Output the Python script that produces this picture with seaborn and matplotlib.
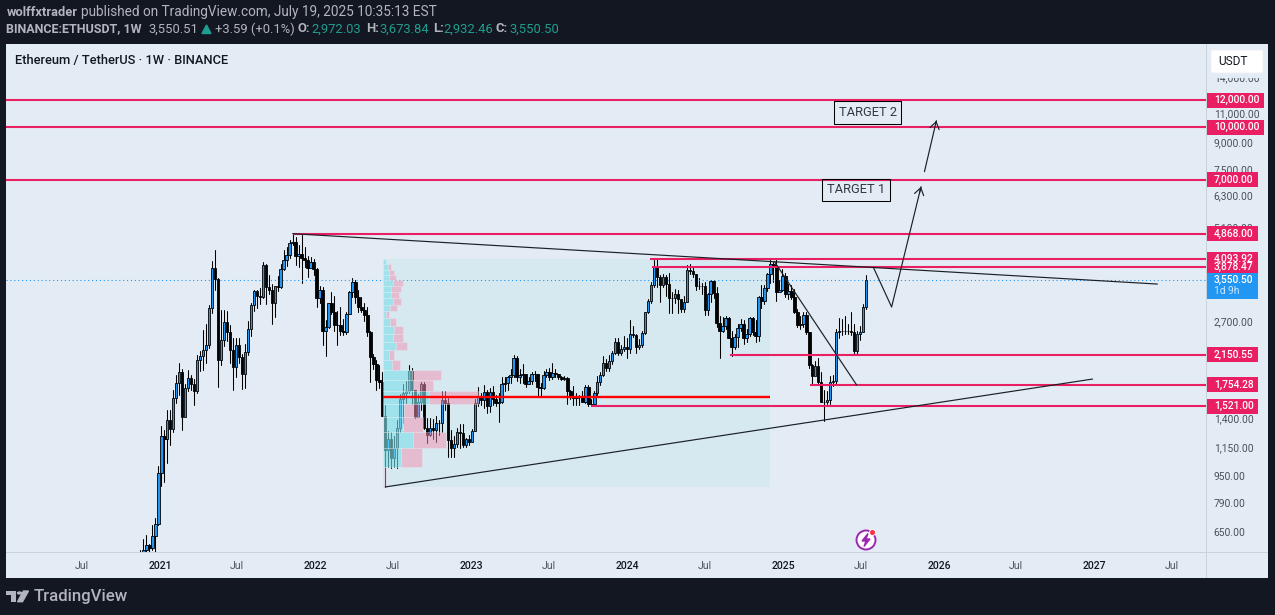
import matplotlib
matplotlib.use("Agg")
import matplotlib.pyplot as plt
import matplotlib.dates as mdates
from matplotlib.patches import Rectangle, Polygon, Circle, Ellipse, FancyBboxPatch
import numpy as np
import pandas as pd
import seaborn as sns

# weekly candles, one row per line of the picture, oldest first (last week = 2025-07-14)
first_open = 450
closes = [
    460, 510, 575, 594, 584, 634, 684, 971,
    1241, 1216, 1380, 1299, 1611, 1783, 1913, 1408, 1723, 1835, 1770, 1682, 2072, 2137, 2222, 2299, 2940, 3870,
    3575, 2082, 2368, 2690, 2500, 2222, 1975, 2299, 2123, 1885, 2187, 2563, 3000, 3297, 3201, 3180, 3945, 3390,
    3325, 3040, 3410, 3390, 3830, 4065, 4215, 4560, 4590, 4190, 4250, 4130, 4075, 3870, 4015, 3830,
    3145, 3340, 2530, 2595, 3040, 2860, 2620, 2620, 2530, 2500, 2840, 3280, 3505, 3170, 2965, 2900, 2805, 2500,
    2125, 2025, 1808, 1795, 1425, 1129, 1215, 1070, 1145, 1315, 1590, 1665, 1680, 1930, 1693, 1415, 1565, 1760,
    1315, 1250, 1310, 1292, 1355, 1355, 1582, 1555, 1208, 1145, 1180, 1275, 1265, 1170, 1220, 1195,
    1285, 1552, 1630, 1585, 1670, 1518, 1678, 1600, 1550, 1560, 1770, 1780, 1845, 1870, 2100, 1855, 1880, 1890,
    1760, 1800, 1890, 1890, 1730, 1715, 1880, 1915, 1850, 1905, 1890, 1850, 1825, 1835, 1680, 1630, 1610, 1630,
    1630, 1565, 1735, 1543, 1543, 1660, 1790, 1880, 2040, 1960, 2060, 2170, 2340, 2180, 2240, 2270,
    2230, 2470, 2460, 2260, 2290, 2495, 2860, 3090, 3450, 3895, 3640, 3450, 3640, 3460, 3145, 3150, 3250, 3135,
    2925, 3080, 3800, 3780, 3720, 3420, 3420, 3430, 2906, 3240, 3530, 3270, 2665, 2520, 2610, 2750, 2410, 2260,
    2420, 2580, 2650, 2415, 2470, 2750, 2510, 2440, 3170, 3100, 3370, 3700, 3970, 3900, 3295, 3340, 3665,
    3230, 3310, 3180, 2860, 2630, 2650, 2820, 2510, 2000, 1865, 1990, 1790, 1565, 1565, 1585, 1785, 1800, 2500,
    2530, 2530, 2525, 2525, 2510, 2200, 2480, 2510, 2970, 3550.5,
]
highs = [
    490, 575, 622, 636, 600, 680, 716, 1013,
    1330, 1290, 1480, 1480, 1690, 1875, 2030, 1950, 1760, 1945, 1880, 1830, 2150, 2200, 2539, 2640, 3000, 4050,
    4360, 3600, 2900, 2900, 2880, 2620, 2400, 2408, 2410, 2160, 2320, 2700, 3040, 3330, 3320, 3370, 4020, 3975,
    3680, 3470, 3420, 3650, 3980, 4370, 4460, 4665, 4870, 4770, 4500, 4810, 4450, 4200, 4150, 4100,
    3850, 3420, 3390, 2720, 3050, 3280, 3200, 2880, 2970, 2730, 2860, 3300, 3600, 3560, 3330, 3180, 3040, 2960,
    2520, 2160, 2080, 2010, 1920, 1530, 1285, 1280, 1240, 1380, 1650, 1770, 1800, 2000, 1960, 1700, 1650, 1790,
    1785, 1400, 1400, 1390, 1420, 1380, 1680, 1680, 1610, 1290, 1240, 1310, 1350, 1350, 1230, 1250,
    1300, 1600, 1735, 1660, 1750, 1700, 1720, 1740, 1640, 1660, 1850, 1850, 1860, 1950, 2140, 2130, 1950, 2020,
    1860, 1850, 1920, 1930, 1890, 1780, 1930, 1950, 1960, 2040, 1950, 1890, 1865, 1860, 1850, 1690, 1745, 1660,
    1640, 1680, 1750, 1750, 1600, 1680, 1860, 1910, 2130, 2090, 2140, 2200, 2400, 2400, 2300, 2445,
    2400, 2716, 2610, 2470, 2395, 2520, 2870, 3125, 3520, 4073, 4090, 3680, 3720, 3680, 3730, 3280, 3360, 3320,
    3120, 3200, 3945, 3980, 3890, 3720, 3600, 3500, 3520, 3260, 3560, 3560, 3400, 2800, 2780, 2800, 2770, 2530,
    2480, 2650, 2730, 2720, 2560, 2770, 2770, 2720, 3200, 3450, 3450, 3740, 4090, 4010, 4110, 3550, 3830,
    3740, 3470, 3450, 3350, 2920, 2800, 2860, 2860, 2500, 2020, 2060, 2100, 1920, 1690, 1680, 1860, 1875, 2550,
    2755, 2735, 2790, 2650, 2865, 2650, 2520, 2610, 3020, 3673.84,
]
lows = [
    440, 475, 480, 565, 530, 575, 560, 680,
    887, 914, 1035, 1170, 1280, 1555, 1640, 1290, 1470, 1680, 1700, 1530, 1660, 1930, 1938, 2040, 2250, 2850,
    3330, 1725, 2000, 2280, 2355, 2040, 1693, 1850, 2040, 1710, 1720, 2150, 2440, 2880, 2950, 3020, 3150, 3030,
    3240, 2640, 2770, 3300, 3380, 3800, 3910, 4140, 4510, 3950, 3900, 3500, 3900, 3640, 3880, 3680,
    2970, 3050, 2290, 2137, 2580, 2830, 2520, 2290, 2450, 2450, 2480, 2880, 3180, 3040, 2870, 2860, 2700, 2440,
    1790, 1950, 1700, 1720, 1420, 881, 1010, 1000, 1010, 1000, 1280, 1360, 1550, 1660, 1540, 1400, 1420, 1480,
    1300, 1188, 1240, 1220, 1190, 1250, 1280, 1480, 1078, 1080, 1075, 1150, 1145, 1150, 1150, 1170,
    1195, 1285, 1520, 1530, 1500, 1450, 1460, 1530, 1520, 1370, 1550, 1680, 1700, 1780, 1850, 1800, 1780, 1780,
    1730, 1760, 1760, 1800, 1630, 1630, 1710, 1850, 1810, 1830, 1845, 1820, 1810, 1810, 1540, 1590, 1530, 1530,
    1530, 1560, 1550, 1520, 1520, 1530, 1640, 1750, 1860, 1930, 1930, 2020, 2165, 2140, 2150, 2210,
    2100, 2170, 2420, 2170, 2230, 2260, 2470, 2850, 3050, 3400, 3400, 3060, 3400, 3200, 2850, 2850, 3050, 2850,
    2860, 2860, 3060, 3720, 3640, 3330, 3360, 3230, 2810, 2820, 3080, 3150, 2600, 2110, 2500, 2560, 2400, 2137,
    2240, 2260, 2520, 2310, 2350, 2440, 2450, 2350, 2360, 2950, 3020, 3300, 3500, 3520, 3100, 3300, 3300,
    3180, 3130, 3130, 2850, 2590, 2550, 2600, 2470, 1960, 1750, 1880, 1770, 1560, 1375, 1540, 1540, 1740, 1750,
    2400, 2450, 2480, 2470, 2450, 2150, 2160, 2370, 2500, 2932.46,
]

# volume profile rows, prices top to bottom, volumes in relative units
profile_edges = [4103, 3967, 3810, 3683, 3561, 3420, 3284, 3153, 3008, 2888, 2755, 2611, 2473,
                 2343, 2220, 2075, 1939, 1813, 1683, 1542, 1412, 1277, 1146, 1008, 881]
profile_up = [3, 5, 6, 6, 10, 8, 8, 10, 7, 3, 7, 11, 10, 13, 6, 9, 29, 30, 46, 21, 20, 30, 18, 1]
profile_down = [0, 3, 5, 7, 10, 10, 8, 8, 7, 3, 6, 9, 10, 11, 5, 8, 29, 20, 49, 16, 20, 33, 21, 2]
poc_price = 1616

level_prices = [12000, 10000, 7000, 4868, 4093.92, 3878.47, 2150.55, 1754.28, 1521]
level_starts = [None, None, None, "2021-11-08", "2024-02-23", "2024-02-28", "2024-08-29", "2025-03-05", "2023-10-08"]

y_tick_values = [14000, 11000, 9000, 7500, 6300, 5100, 2700, 1400, 1150, 950, 790, 650]
x_tick_dates = ["2020-07-01", "2021-01-01", "2021-07-01", "2022-01-01", "2022-07-01", "2023-01-01", "2023-07-01",
                "2024-01-01", "2024-07-01", "2025-01-01", "2025-07-01", "2026-01-01", "2026-07-01", "2027-01-01",
                "2027-07-01"]
x_tick_labels = ["Jul", "2021", "Jul", "2022", "Jul", "2023", "Jul", "2024", "Jul", "2025", "Jul", "2026", "Jul",
                 "2027", "Jul"]

# drawn lines: dates and prices
trend_lines = {
    "top": (["2021-11-08", "2027-05-28"], [4868, 3465]),
    "bottom": (["2022-06-13", "2026-12-27"], [881, 1825]),
    "diagonal": (["2024-12-12", "2025-06-22"], [4020, 1754]),
    "path": (["2025-08-01", "2025-09-12", "2025-11-20"], [3862, 2968, 6684]),
    "path2": (["2025-11-28", "2025-12-26"], [7397, 10435]),
}

PANEL = "#e3ecf4"
DARK = "#131722"
PINK = "#e91e63"
BLUE = "#2196f3"
TEAL = "#1f9e8f"
GREY = "#b2b5be"
SEP = "#c9d1d9"
W, H = 1275, 615

sns.set_theme(style="white")
plt.rcParams["font.family"] = ["Roboto", "DejaVu Sans"]

fig = plt.figure(figsize=(W / 100, H / 100), dpi=100, facecolor=DARK)
ax = fig.add_axes([6 / W, (H - 552) / H, 1200 / W, 508 / H], facecolor=PANEL)


def fx(x):
    return x / W


def fy(y):
    return 1 - y / H


def dnum(s):
    return mdates.date2num(pd.Timestamp(s))


def fig_text(x, y, s, **kw):
    kw.setdefault("va", "center")
    kw.setdefault("zorder", 10)
    return fig.text(fx(x), fy(y), s, **kw)


def fig_rect(x0, y0, x1, y1, color, zorder=5):
    fig.add_artist(Rectangle((fx(x0), fy(y1)), fx(x1 - x0), (y1 - y0) / H, color=color, lw=0,
                             transform=fig.transFigure, zorder=zorder))


ax.set_yscale("log")
ax.set_xlim(dnum("2020-01-06"), dnum("2027-09-19"))
ax.set_ylim(568, 17513)

# candles
week_dates = pd.date_range(end="2025-07-14", periods=len(closes), freq="7D")
weeks = mdates.date2num(week_dates)
opens = np.array([first_open] + closes[:-1], dtype=float)
closes_a = np.array(closes, dtype=float)
up = closes_a >= opens

wicks = pd.DataFrame({
    "week": np.concatenate([weeks, weeks]),
    "price": np.concatenate([lows, highs]),
})
sns.lineplot(data=wicks, x="week", y="price", units="week", estimator=None, sort=False,
             color="#000000", lw=0.75, ax=ax, legend=False, zorder=3)
body_bottom = np.minimum(opens, closes_a)
body_height = np.maximum(np.abs(closes_a - opens), 1.5)
ax.bar(weeks, body_height, bottom=body_bottom, width=5.8, color=[BLUE if u else "#000000" for u in up],
       edgecolor="#000000", lw=0.6, zorder=4)

# fixed range profile
box_left, box_right = dnum("2022-06-08"), dnum("2024-12-02")
ax.add_patch(Rectangle((box_left, 881), box_right - box_left, 4103 - 881, color="#bfe6ee", alpha=0.35, lw=0, zorder=2))
px_days = 1 / 0.42683
edges = np.array(profile_edges, dtype=float)
row_low = edges[1:]
row_height = edges[:-1] - edges[1:]
up_days = np.array(profile_up) * px_days
down_days = np.array(profile_down) * px_days
ax.barh(row_low, up_days, height=row_height, left=box_left, align="edge", color="#80deea", alpha=0.62,
        edgecolor="#e3f1f6", lw=0.4, zorder=5)
ax.barh(row_low, down_days, height=row_height, left=box_left + up_days, align="edge", color="#f48fb1", alpha=0.5,
        edgecolor="#e3f1f6", lw=0.4, zorder=5)
ax.plot([box_left, box_right], [poc_price, poc_price], color="#ff0000", lw=1.7, zorder=6, solid_capstyle="butt")

# current price
ax.axhline(3550.5, color=BLUE, ls=(0, (1, 2.5)), lw=0.8, zorder=3)

# levels
x_left, x_right = ax.get_xlim()
for price, start in zip(level_prices, level_starts):
    x0 = x_left if start is None else dnum(start)
    ax.plot([x0, x_right], [price, price], color=PINK, lw=1.5, zorder=6, solid_capstyle="butt")

# trend lines and arrows
for name, (dates, prices) in trend_lines.items():
    t = pd.DataFrame({"d": [dnum(d) for d in dates], "p": prices})
    sns.lineplot(data=t, x="d", y="p", sort=False, estimator=None, color="#1c1f26", lw=0.85, ax=ax, legend=False, zorder=7)
for name in ["path", "path2"]:
    dates, prices = trend_lines[name]
    tip_x, tip_p = dnum(dates[-1]), prices[-1]
    back_x = tip_x + 0.05 * (dnum(dates[-2]) - tip_x)
    back_p = tip_p * (prices[-2] / tip_p) ** 0.05
    ax.annotate("", xy=(tip_x, tip_p), xytext=(back_x, back_p),
                arrowprops=dict(arrowstyle="->,head_length=0.42,head_width=0.28", color="#1c1f26", lw=0.85,
                                shrinkA=0, shrinkB=0), zorder=7)

for label, date, price in [("TARGET 2", "2025-07-18", 11030), ("TARGET 1", "2025-06-20", 6538)]:
    ax.text(dnum(date), price, label, ha="center", va="center", fontsize=9.3, color="#333740", zorder=8,
            bbox=dict(boxstyle="square,pad=0.36", fc="none", ec="#000000", lw=0.75))

# axes furniture
ax.set_xlabel("")
ax.set_ylabel("")
ax.grid(False)
for spine in ax.spines.values():
    spine.set_visible(False)
ax.yaxis.tick_right()
ax.set_yticks(y_tick_values)
ax.set_yticklabels([f"{v:,.2f}" for v in y_tick_values], fontsize=7.4, color="#4a4e58")
ax.yaxis.set_minor_locator(plt.NullLocator())
ax.set_xticks([dnum(d) for d in x_tick_dates])
ax.set_xticklabels(x_tick_labels, fontsize=7.6)
for lab in ax.get_xticklabels():
    if lab.get_text() == "Jul":
        lab.set_color("#50535e")
    else:
        lab.set_color("#131722")
        lab.set_fontweight("medium")
ax.tick_params(axis="both", length=0)
ax.tick_params(axis="y", pad=5.6)
ax.tick_params(axis="x", pad=6.5)

# panel behind and separators
fig_rect(6, 44, 1268, 578, PANEL, zorder=-1)
fig_rect(1206, 44, 1207, 578, SEP)
fig_rect(6, 552, 1268, 553, SEP)

# usdt button
fig_rect(1207, 70, 1266, 77.5, PANEL, zorder=5)
btn = FancyBboxPatch((fx(1211), fy(73)), fx(52), 23 / H, boxstyle="round,pad=0,rounding_size=0.002",
                     transform=fig.transFigure, fc="white", ec="#eef1f5", lw=0.8, zorder=6)
fig.add_artist(btn)
fig_text(1233, 61.5, "USDT", ha="center", fontsize=8.6, color="#131722")

# price tags on the scale
fig.canvas.draw()
for price in level_prices:
    ypx = H - ax.transData.transform((x_left, price))[1]
    label = f"{price:,.2f}"
    fig_rect(1207, ypx - 7.5, 1264 if price >= 10000 else 1258, ypx + 7.5, PINK, zorder=6)
    fig_text(1214, ypx, label, color="white", fontsize=7.4, fontweight="medium", zorder=7)
ypx = H - ax.transData.transform((x_left, 3550.5))[1]
fig_rect(1207, ypx - 7, 1258, ypx + 18.5, BLUE, zorder=6)
fig_text(1214, ypx, "3,550.50", color="white", fontsize=7.4, fontweight="medium", zorder=7)
fig_text(1214, ypx + 11, "1d 9h", color="#cfe8fc", fontsize=7.4, zorder=7)

# header
fig_text(6.5, 12, "wolffxtrader", color=GREY, fontsize=9.3, fontweight="bold")
fig_text(81, 12, "published on TradingView.com, July 19, 2025 10:35:13 EST", color=GREY, fontsize=9.85)
fig_text(6.5, 29, "BINANCE:ETHUSDT, 1W", color=GREY, fontsize=9.0, fontweight="bold")
fig_text(148, 29, "3,550.51", color=GREY, fontsize=9.4)
fig.add_artist(Polygon([[fx(202), fy(33.5)], [fx(211), fy(33.5)], [fx(206.5), fy(25)]], color=TEAL,
                       transform=fig.transFigure, zorder=10))
fig_text(215, 29, "+3.59 (+0.1%)", color=GREY, fontsize=9.4)
for x_l, lab, x_v, val in [(298, "O:", 311, "2,972.03"), (366, "H:", 379, "3,673.84"),
                           (433, "L:", 443, "2,932.46"), (496, "C:", 509, "3,550.50")]:
    fig_text(x_l, 29, lab, color=GREY, fontsize=9.4, fontweight="bold")
    fig_text(x_v, 29, val, color=TEAL, fontsize=9.4)
fig_text(15, 60.5, "Ethereum / TetherUS \u00b7 1W \u00b7 BINANCE", color="#131722", fontsize=9.3, fontweight="medium")

# tradingview logo
fig_rect(6, 591, 16, 594.7, GREY, zorder=10)
fig_rect(11, 591, 16, 601.7, GREY, zorder=10)
fig.add_artist(Circle((fx(19.5), fy(593)), 2 / W, color=GREY, transform=fig.transFigure, zorder=10))
fig.add_artist(Polygon([[fx(23.5), fy(591)], [fx(28.5), fy(591)], [fx(22.5), fy(601.7)], [fx(17.5), fy(601.7)]],
                       color=GREY, transform=fig.transFigure, zorder=10))
fig_text(33.5, 596.5, "TradingView", color=GREY, fontsize=12.1, fontweight="medium")

# bolt badge
bx, by = 866, 540
fig.add_artist(Ellipse((fx(bx), fy(by)), 19 / W, 19 / H, fc="white", ec="#9c27b0", lw=1.4,
                       transform=fig.transFigure, zorder=10))
fig.add_artist(Polygon([[fx(p), fy(q)] for p, q in [(868, 533.5), (862, 541), (866, 541), (864, 546.5), (870, 539), (866, 539)]],
                       color="#9c27b0", transform=fig.transFigure, zorder=11))
fig.add_artist(Ellipse((fx(872.5), fy(532.5)), 6 / W, 6 / H, fc="#f23645", ec="white", lw=0.6,
                       transform=fig.transFigure, zorder=12))

fig.savefig("out.png", dpi=100, facecolor=DARK)
